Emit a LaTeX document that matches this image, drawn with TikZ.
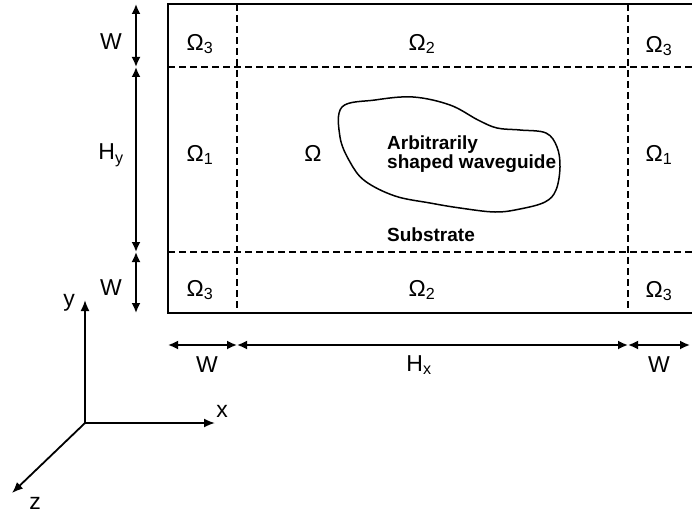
\documentclass[tikz,border=0pt]{standalone}
\usepackage{fontspec}
\setmainfont{Liberation Sans}
\usetikzlibrary{arrows.meta,positioning}

\begin{document}
\begin{tikzpicture}[
    x=1pt, y=-1pt,
    boxline/.style={line width=2pt},
    gridline/.style={line width=1.8pt, dash pattern=on 7pt off 4pt},
    dimarrow/.style={{Latex[length=10pt,width=9pt]}-{Latex[length=10pt,width=9pt]}, line width=1.8pt},
    axisarrow/.style={-{Latex[length=11pt,width=9pt]}, line width=1.8pt},
    regionlabel/.style={font=\fontsize{23}{26}\selectfont, inner sep=0pt},
    guidelabel/.style={font=\fontsize{19}{19}\selectfont\bfseries, align=left, anchor=west, inner sep=0pt}
]
    \useasboundingbox (0,0) rectangle (692,513);

    % outer box and subdomain borders
    \coordinate (boxtl) at (168,4);
    \coordinate (boxbr) at (697,313);
    \draw[boxline] (boxtl) rectangle (boxbr);
    \draw[gridline] (237,4) -- (237,313);
    \draw[gridline] (628,4) -- (628,313);
    \draw[gridline] (168,67) -- (697,67);
    \draw[gridline] (168,252) -- (697,252);

    % subdomain labels
    \node[regionlabel] (om3tl) at (200,44) {Ω\textsubscript{3}};
    \node[regionlabel] (om2t)  at (422,44) {Ω\textsubscript{2}};
    \node[regionlabel] (om3tr) at (659,46) {Ω\textsubscript{3}};
    \node[regionlabel] (om1l)  at (200,155) {Ω\textsubscript{1}};
    \node[regionlabel] (om)    at (313,153) {Ω};
    \node[regionlabel] (om1r)  at (659,155) {Ω\textsubscript{1}};
    \node[regionlabel] (om3bl) at (200,290) {Ω\textsubscript{3}};
    \node[regionlabel] (om2b)  at (422,290) {Ω\textsubscript{2}};
    \node[regionlabel] (om3br) at (659,291) {Ω\textsubscript{3}};

    % waveguide outline
    \draw[line width=1.5pt] plot[smooth cycle, tension=0.6] coordinates {
        (342,107) (375,100) (413,97) (450,105) (478,120) (497,128) (520,130)
        (546,133) (557,147) (560,167) (556,190) (545,202) (520,209) (495,212)
        (460,208) (430,203) (395,196) (365,181) (350,162) (340,137)};
    \node[guidelabel] (guide) at (387,154) {Arbitrarily\\shaped waveguide};
    \node[guidelabel] (subst) at (387,235) {Substrate};

    % vertical dimensions
    \coordinate (dy0) at (136,4);
    \coordinate (dy1) at (136,67);
    \coordinate (dy2) at (136,252);
    \coordinate (dy3) at (136,313);
    \draw[dimarrow] (dy0) -- (dy1);
    \draw[dimarrow] (dy1) -- (dy2);
    \draw[dimarrow] (dy2) -- (dy3);
    \node[regionlabel] (wtop) at (111,42) {W};
    \node[regionlabel] (hy)   at (111,155) {H\textsubscript{y}};
    \node[regionlabel] (wbot) at (111,288) {W};

    % horizontal dimensions
    \coordinate (dx0) at (168,345);
    \coordinate (dx1) at (237,345);
    \coordinate (dx2) at (628,345);
    \coordinate (dx3) at (690,345);
    \draw[dimarrow] (dx0) -- (dx1);
    \draw[dimarrow] (dx1) -- (dx2);
    \draw[dimarrow] (dx2) -- (dx3);
    \node[regionlabel] (wleft)  at (207,365) {W};
    \node[regionlabel] (hx)     at (419,365) {H\textsubscript{x}};
    \node[regionlabel] (wright) at (659,365) {W};

    % coordinate axes
    \coordinate (orig) at (85,423);
    \coordinate (yend) at (85,300);
    \coordinate (xend) at (215,423);
    \coordinate (zend) at (12,493);
    \draw[axisarrow] (orig) -- (yend);
    \draw[axisarrow] (orig) -- (xend);
    \draw[axisarrow] (orig) -- (zend);
    \node[regionlabel] (ylab) at (69,303) {y};
    \node[regionlabel] (xlab) at (222,411) {x};
    \node[regionlabel] (zlab) at (35,503) {z};
\end{tikzpicture}
\end{document}
